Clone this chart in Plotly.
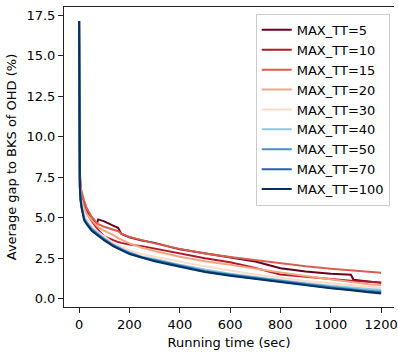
import plotly.graph_objects as go

# Running time (sec) sample points shared by all series
T = [0, 1, 3, 6, 10, 20, 30, 50, 70, 76, 100, 135, 155, 168, 200, 250, 300,
     400, 500, 600, 700, 800, 900, 1000, 1080, 1090, 1150, 1200]

labels = ["MAX_TT=5", "MAX_TT=10", "MAX_TT=15", "MAX_TT=20", "MAX_TT=30",
          "MAX_TT=40", "MAX_TT=50", "MAX_TT=70", "MAX_TT=100"]

colors = ["#67001f", "#b2182b", "#d6604d", "#f4a582", "#fddbc7",
          "#92c5de", "#4393c3", "#2166ac", "#053061"]

gap_tt5 = [17.15, 10.5, 7.6, 6.9, 6.45, 5.9, 5.5, 5.0, 4.6, 4.9, 4.78, 4.52, 4.38, 4.0,
           3.8, 3.6, 3.45, 3.05, 2.8, 2.58, 2.3, 1.88, 1.68, 1.55, 1.48, 1.17, 1.05, 0.98]
gap_tt10 = [17.15, 10.2, 7.4, 6.6, 6.2, 5.7, 5.3, 4.8, 4.4, 4.25, 3.85, 3.6, 3.5, 3.45,
            3.35, 3.25, 3.1, 2.8, 2.5, 2.25, 1.9, 1.5, 1.35, 1.22, 1.12, 1.1, 1.05, 1.0]
gap_tt15 = [17.15, 10.8, 7.9, 7.0, 6.6, 6.05, 5.6, 5.05, 4.7, 4.6, 4.45, 4.28, 4.17, 4.02,
            3.82, 3.62, 3.42, 3.08, 2.8, 2.58, 2.38, 2.17, 2.0, 1.86, 1.75, 1.73, 1.66, 1.6]
gap_tt20 = [17.15, 10.0, 7.3, 6.5, 6.1, 5.6, 5.25, 4.85, 4.5, 4.42, 4.2, 3.95, 3.75, 3.65,
            3.42, 3.15, 2.95, 2.6, 2.32, 2.1, 1.85, 1.62, 1.4, 1.2, 1.02, 1.0, 0.9, 0.85]
gap_tt30 = [17.15, 9.8, 7.1, 6.3, 5.85, 5.2, 4.9, 4.5, 4.2, 4.12, 3.85, 3.45, 3.3, 3.2,
            3.0, 2.75, 2.6, 2.28, 2.0, 1.75, 1.5, 1.3, 1.1, 0.95, 0.82, 0.8, 0.74, 0.7]
gap_tt40 = [17.15, 9.6, 7.0, 6.2, 5.75, 5.0, 4.75, 4.35, 4.1, 4.03, 3.73, 3.36, 3.18, 3.1,
            2.88, 2.6, 2.45, 2.1, 1.8, 1.55, 1.35, 1.15, 0.95, 0.8, 0.68, 0.66, 0.6, 0.55]
gap_tt50 = [17.15, 9.4, 6.95, 6.15, 5.7, 4.95, 4.7, 4.3, 4.04, 3.98, 3.68, 3.32, 3.14, 3.06,
            2.84, 2.57, 2.4, 2.05, 1.72, 1.5, 1.3, 1.12, 0.9, 0.72, 0.6, 0.58, 0.5, 0.45]
gap_tt70 = [17.15, 9.2, 6.9, 6.1, 5.65, 4.9, 4.65, 4.25, 4.0, 3.94, 3.64, 3.28, 3.1, 3.02,
            2.8, 2.54, 2.36, 2.0, 1.68, 1.45, 1.25, 1.08, 0.86, 0.68, 0.55, 0.54, 0.44, 0.38]
gap_tt100 = [17.15, 9.0, 6.85, 6.05, 5.6, 4.85, 4.6, 4.2, 3.96, 3.9, 3.6, 3.25, 3.08, 3.0,
             2.76, 2.52, 2.32, 1.97, 1.65, 1.42, 1.22, 1.05, 0.84, 0.64, 0.52, 0.5, 0.4, 0.33]

series = [gap_tt5, gap_tt10, gap_tt15, gap_tt20, gap_tt30,
          gap_tt40, gap_tt50, gap_tt70, gap_tt100]

x_ticks = [0, 200, 400, 600, 800, 1000, 1200]
y_ticks = [0.0, 2.5, 5.0, 7.5, 10.0, 12.5, 15.0, 17.5]

FONT = "DejaVu Sans"

fig = go.Figure()
for lab, col, vals in zip(labels, colors, series):
    fig.add_trace(go.Scatter(x=T, y=vals, mode="lines", name=lab,
                             line=dict(color=col, width=2)))

fig.update_layout(
    width=398, height=354,
    margin=dict(l=64, r=0, t=7, b=47),
    paper_bgcolor="white", plot_bgcolor="white",
    font=dict(family=FONT, size=13, color="black"),
    showlegend=True,
    legend=dict(x=0.581, y=0.977, xanchor="left", yanchor="top",
                bgcolor="rgba(255,255,255,0.8)", bordercolor="#cccccc",
                borderwidth=1, font=dict(family=FONT, size=13, color="black"),
                tracegroupgap=0),
)
fig.update_xaxes(range=[-60, 1251], tickvals=x_ticks,
                 ticktext=[str(v) for v in x_ticks], ticklabeloverflow="allow",
                 showgrid=False, zeroline=False, showline=True, mirror=True,
                 linecolor="#222", linewidth=1, ticks="outside", ticklen=5,
                 tickcolor="#222", tickfont=dict(size=13, color="black"),
                 title=dict(text="Running time (sec)", standoff=7,
                            font=dict(size=13, color="black")))
fig.update_yaxes(range=[-0.51, 18.02], tickvals=y_ticks,
                 ticktext=[f"{v:.1f}" for v in y_ticks],
                 showgrid=False, zeroline=False, showline=True, mirror=False,
                 linecolor="#222", linewidth=1, ticks="outside", ticklen=5,
                 tickcolor="#222", tickfont=dict(size=13, color="black"),
                 title=dict(text="Average gap to BKS of OHD (%)", standoff=6,
                            font=dict(size=13, color="black")))

fig.write_html("out.html")
